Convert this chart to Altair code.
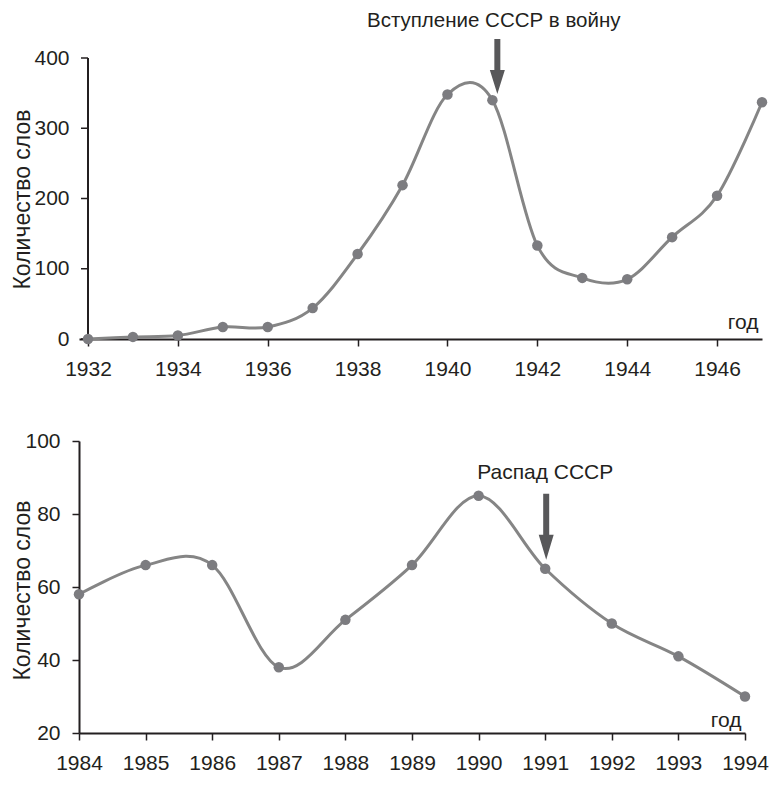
import altair as alt
import pandas as pd

# ---- data ----
years_war = [1932, 1933, 1934, 1935, 1936, 1937, 1938, 1939, 1940, 1941, 1942, 1943, 1944, 1945, 1946, 1947]
counts_war = [0, 3, 5, 17, 17, 44, 121, 219, 348, 340, 133, 87, 85, 145, 204, 337]

years_ussr = [1984, 1985, 1986, 1987, 1988, 1989, 1990, 1991, 1992, 1993, 1994]
counts_ussr = [58, 66, 66, 38, 51, 66, 85, 65, 50, 41, 30]

war_ticks_x = [1932, 1934, 1936, 1938, 1940, 1942, 1944, 1946]
war_ticks_y = [0, 100, 200, 300, 400]
ussr_ticks_x = years_ussr
ussr_ticks_y = [20, 40, 60, 80, 100]

war_note = "Вступление СССР в войну"
ussr_note = "Распад СССР"
y_title = "Количество слов"
x_title = "год"

FONT = "Liberation Sans"
INK = "#231f20"
LINE = "#858585"
DOT = "#7c7c80"
ARROW = "#58585a"

df_war = pd.DataFrame({"year": years_war, "count": counts_war})
df_ussr = pd.DataFrame({"year": years_ussr, "count": counts_ussr})


def panel(df, xdom, ydom, xticks, yticks, w, h, note, note_x, note_y, note_size,
          arrow_x, arrow_y, arrow_shape, arrow_size,
          gx, gy, ytx, yty, inset_axis):
    x = alt.X("year:Q", scale=alt.Scale(domain=xdom, nice=False, zero=False),
              axis=alt.Axis(values=xticks, format="d", title=x_title,
                            titleX=gx, titleY=gy, titleAlign="right",
                            titleAnchor="end", titleBaseline="alphabetic",
                            titleFontSize=21, titleFontWeight="normal",
                            titleFont=FONT, titleColor=INK,
                            labelPadding=12, labelFlush=False,
                            labelOverlap=False, labelBound=False))
    yaxis = dict(values=yticks, title=y_title, titleFontSize=23,
                 titleFontWeight="normal", titleFont=FONT,
                 titleColor=INK, titleX=ytx, titleY=yty,
                 titleAngle=270, titleAlign="center",
                 titleBaseline="middle", labelFlush=False, labelOverlap=False)
    if inset_axis:
        # the y axis sits at the first year, a little inside the plot frame
        yaxis.update(domain=False, ticks=False, labelPadding=10)
    else:
        yaxis.update(labelPadding=12)
    y = alt.Y("count:Q", scale=alt.Scale(domain=ydom, nice=False, zero=False),
              axis=alt.Axis(**yaxis))
    base = alt.Chart(df)
    line = base.mark_line(interpolate="cardinal", tension=0, color=LINE,
                          strokeWidth=3).encode(x=x, y=y)
    pts = base.mark_circle(size=110, color=DOT, opacity=1).encode(x="year:Q", y="count:Q")
    ann = pd.DataFrame({"year": [note_x], "count": [note_y], "t": [note]})
    txt = alt.Chart(ann).mark_text(font=FONT, fontSize=note_size, color=INK,
                                   baseline="alphabetic", align="center").encode(
        x="year:Q", y="count:Q", text="t:N")
    arr = pd.DataFrame({"year": [arrow_x], "count": [arrow_y]})
    arrow = alt.Chart(arr).mark_point(shape=arrow_shape, size=arrow_size,
                                      filled=True, color=ARROW, opacity=1,
                                      strokeWidth=0).encode(x="year:Q", y="count:Q")
    layers = [line, pts, arrow, txt]
    if inset_axis:
        x0 = xticks[0]
        dom = pd.DataFrame({"year": [x0], "lo": [ydom[0]], "hi": [ydom[1]]})
        dline = alt.Chart(dom).mark_rule(color=INK, strokeWidth=2).encode(
            x="year:Q", y="lo:Q", y2="hi:Q")
        tk = pd.DataFrame({"year": [x0] * len(yticks), "count": yticks})
        tline = alt.Chart(tk).mark_rule(color=INK, strokeWidth=1.5, x2Offset=-7).encode(
            x="year:Q", x2="year:Q", y="count:Q")
        layers = [dline, tline] + layers
    return alt.layer(*layers).properties(width=w, height=h)


war_arrow = "M-0.109,-1L0.109,-1L0.109,0.127L0.273,0.127L0,1L-0.273,0.127L-0.109,0.127Z"
ussr_arrow = "M-0.091,-1L0.091,-1L0.091,0.242L0.227,0.242L0,1L-0.227,0.242L-0.091,0.242Z"

# top panel: its y axis stands at 1932, 9px inside the shared left edge
top = panel(df_war, [1931.7997, 1947], [0, 400], war_ticks_x, war_ticks_y, 683, 281,
            war_note, 1941.03, 444, 20.5, 1941.11, 388, war_arrow, 3025,
            679, -11, -57, 141, True)
bottom = panel(df_ussr, [1984, 1994], [20, 100], ussr_ticks_x, ussr_ticks_y, 666, 292,
               ussr_note, 1991.0, 89.6, 21, 1991.015, 76.5, ussr_arrow, 4356,
               662, -7, -56.5, 149, False)

chart = alt.concat(top, bottom, columns=1, spacing=51, align="none").properties(
    background="white", padding={"left": 3, "top": 3, "right": 0, "bottom": 0}
).configure_view(
    stroke=None
).configure_axis(
    grid=False, domainColor=INK, domainWidth=2, tickColor=INK, tickWidth=1.5,
    tickSize=7, labelFont=FONT, labelFontSize=21, labelColor=INK
)

chart.save("out.html", embed_options={"renderer": "svg", "actions": False})
